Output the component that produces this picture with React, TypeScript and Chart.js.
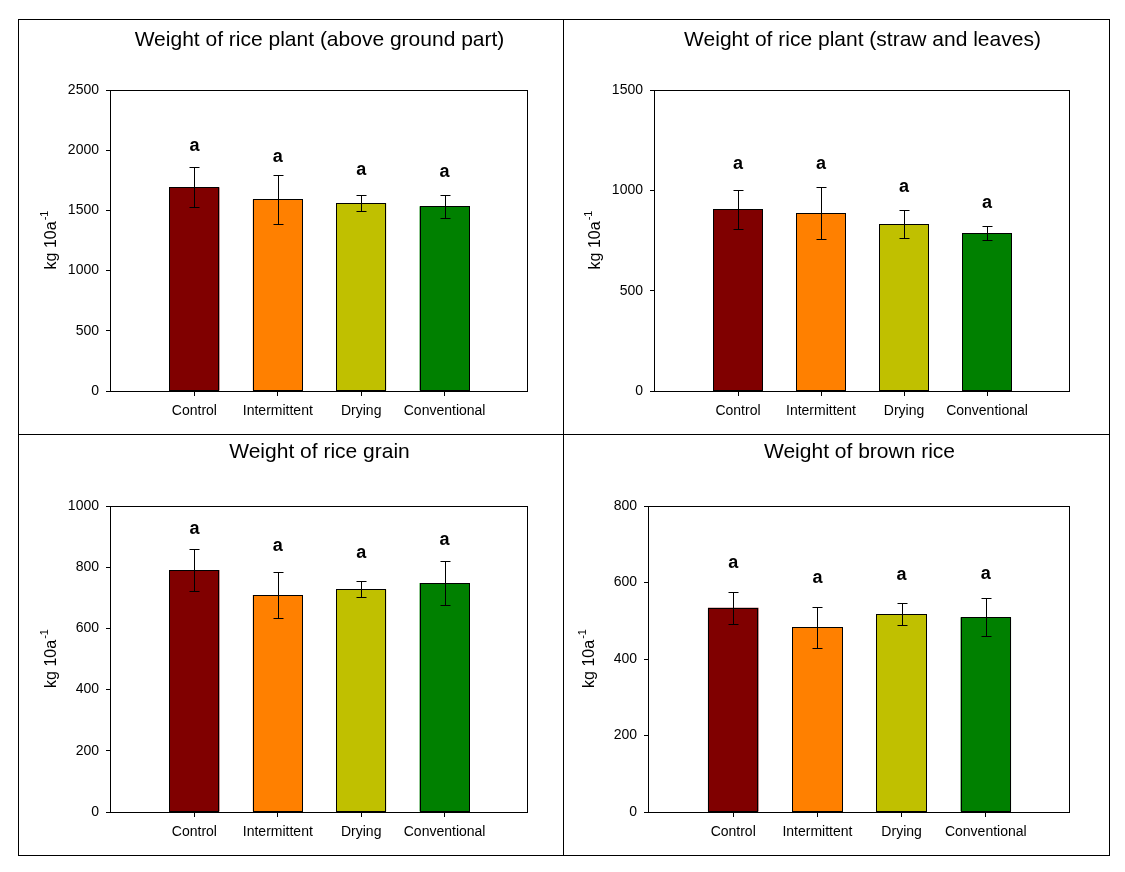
import React, { useEffect, useRef } from 'react';
import { Chart, registerables } from 'chart.js';

Chart.register(...registerables);

// ---------- data ----------
const CATEGORIES = ['Control', 'Intermittent', 'Drying', 'Conventional'];
const BAR_COLORS = ['#800000', '#FF8000', '#C0C000', '#008000'];
const SIG_LETTERS = ['a', 'a', 'a', 'a'];
const Y_LABEL = 'kg 10a';
const Y_LABEL_SUP = '-1';

const P1_TITLE = 'Weight of rice plant (above ground part)';
const P1_VALUES = [1692, 1591, 1559, 1534];
const P1_ERRORS = [167, 200, 67, 96];
const P1_LETTER_Y = [2037, 1946, 1836, 1821];
const P1_Y_MAX = 2500;
const P1_Y_STEP = 500;

const P2_TITLE = 'Weight of rice plant (straw and leaves)';
const P2_VALUES = [906, 886, 831, 786];
const P2_ERRORS = [98, 130, 70, 35];
const P2_LETTER_Y = [1130, 1130, 1019, 939];
const P2_Y_MAX = 1500;
const P2_Y_STEP = 500;

const P3_TITLE = 'Weight of rice grain';
const P3_VALUES = [791, 709, 728, 748];
const P3_ERRORS = [68, 74, 27, 72];
const P3_LETTER_Y = [925, 868, 846, 888];
const P3_Y_MAX = 1000;
const P3_Y_STEP = 200;

const P4_TITLE = 'Weight of brown rice';
const P4_VALUES = [534, 483, 517, 509];
const P4_ERRORS = [42, 54, 29, 50];
const P4_LETTER_Y = [652, 611, 620, 622];
const P4_Y_MAX = 800;
const P4_Y_STEP = 200;

// ---------- layout / style ----------
const FONT = '"Liberation Sans", Arial, Helvetica, sans-serif';

type Box = { x: number; y: number; w: number; h: number };
type Plot = { l: number; r: number; t: number; b: number };
type Spec = {
  title: string;
  values: number[];
  errors: number[];
  letterY: number[];
  yMax: number;
  yStep: number;
  cell: Box;
  plot: Plot;
  titleBase: number;
};

const SPECS: Spec[] = [
  {
    title: P1_TITLE, values: P1_VALUES, errors: P1_ERRORS, letterY: P1_LETTER_Y,
    yMax: P1_Y_MAX, yStep: P1_Y_STEP,
    cell: { x: 19, y: 20, w: 544, h: 414 },
    plot: { l: 111, r: 528, t: 90, b: 391 },
    titleBase: 46,
  },
  {
    title: P2_TITLE, values: P2_VALUES, errors: P2_ERRORS, letterY: P2_LETTER_Y,
    yMax: P2_Y_MAX, yStep: P2_Y_STEP,
    cell: { x: 564, y: 20, w: 545, h: 414 },
    plot: { l: 655, r: 1070, t: 90, b: 391 },
    titleBase: 46,
  },
  {
    title: P3_TITLE, values: P3_VALUES, errors: P3_ERRORS, letterY: P3_LETTER_Y,
    yMax: P3_Y_MAX, yStep: P3_Y_STEP,
    cell: { x: 19, y: 435, w: 544, h: 420 },
    plot: { l: 111, r: 528, t: 506, b: 812 },
    titleBase: 458,
  },
  {
    title: P4_TITLE, values: P4_VALUES, errors: P4_ERRORS, letterY: P4_LETTER_Y,
    yMax: P4_Y_MAX, yStep: P4_Y_STEP,
    cell: { x: 564, y: 435, w: 545, h: 420 },
    plot: { l: 649, r: 1070, t: 506, b: 812 },
    titleBase: 458,
  },
];

function PanelChart({ spec }: { spec: Spec }) {
  const ref = useRef<HTMLCanvasElement>(null);

  useEffect(() => {
    const { cell, plot } = spec;
    const Wy = 70;
    const Hx = 40;
    const padLeft = plot.l - cell.x - Wy;
    const padTop = plot.t - cell.y;
    const padRight = cell.x + cell.w - plot.r;
    const padBottom = cell.y + cell.h - plot.b - Hx;

    const labels = ['', ...CATEGORIES, ''];
    const data = [null, ...spec.values, null];
    const colors = ['rgba(0,0,0,0)', ...BAR_COLORS, 'rgba(0,0,0,0)'];
    const lastIdx = labels.length - 1;

    const annot = {
      id: 'annot',
      afterDatasetsDraw(chart: any) {
        const ctx = chart.ctx as CanvasRenderingContext2D;
        const area = chart.chartArea;
        const ys = chart.scales.y;
        const meta = chart.getDatasetMeta(0);
        ctx.save();
        ctx.strokeStyle = '#000';
        ctx.lineWidth = 1;
        // bar outlines (crisp)
        spec.values.forEach((_v, i) => {
          const el: any = meta.data[i + 1];
          if (!el) return;
          const l = Math.round(el.x - el.width / 2) + 0.5;
          const r = Math.round(el.x + el.width / 2) - 0.5;
          const t = Math.round(el.y) + 0.5;
          const b = Math.round(el.base) - 0.5;
          ctx.strokeRect(l, t, r - l, b - t);
        });
        // frame
        ctx.strokeRect(
          Math.round(area.left) - 0.5,
          Math.round(area.top) + 0.5,
          Math.round(area.right - area.left),
          Math.round(area.bottom - area.top)
        );
        // error bars + letters
        spec.values.forEach((v, i) => {
          const el: any = meta.data[i + 1];
          if (!el) return;
          const x = Math.round(el.x) + 0.5;
          const yTop = Math.round(ys.getPixelForValue(v + spec.errors[i])) + 0.5;
          const yBot = Math.round(ys.getPixelForValue(v - spec.errors[i])) + 0.5;
          const cap = 5;
          ctx.strokeStyle = '#000';
          ctx.lineWidth = 1;
          ctx.beginPath();
          ctx.moveTo(x, yTop);
          ctx.lineTo(x, yBot);
          ctx.moveTo(x - cap, yTop);
          ctx.lineTo(x + cap, yTop);
          ctx.moveTo(x - cap, yBot);
          ctx.lineTo(x + cap, yBot);
          ctx.stroke();

          ctx.fillStyle = '#000';
          ctx.font = `bold 18px ${FONT}`;
          ctx.textAlign = 'center';
          ctx.textBaseline = 'alphabetic';
          const ly = ys.getPixelForValue(spec.letterY[i]);
          ctx.fillText(SIG_LETTERS[i], el.x, ly + 5);
        });
        // title
        ctx.fillStyle = '#000';
        ctx.font = `21px ${FONT}`;
        ctx.textAlign = 'center';
        ctx.textBaseline = 'alphabetic';
        ctx.fillText(spec.title, (area.left + area.right) / 2, spec.titleBase - cell.y);
        // y-axis label
        ctx.save();
        const cx = area.left - 55;
        const cy = (area.top + area.bottom) / 2;
        ctx.translate(cx, cy);
        ctx.rotate(-Math.PI / 2);
        ctx.font = `16px ${FONT}`;
        const w1 = ctx.measureText(Y_LABEL).width;
        ctx.font = `11px ${FONT}`;
        const w2 = ctx.measureText(Y_LABEL_SUP).width;
        const start = -(w1 + w2) / 2;
        ctx.textAlign = 'left';
        ctx.font = `16px ${FONT}`;
        ctx.fillText(Y_LABEL, start, 0);
        ctx.font = `11px ${FONT}`;
        ctx.fillText(Y_LABEL_SUP, start + w1 + 1, -8);
        ctx.restore();
        ctx.restore();
      },
    };

    const chart = new Chart(ref.current as HTMLCanvasElement, {
      type: 'bar',
      data: {
        labels,
        datasets: [
          {
            data: data as any,
            backgroundColor: colors,
            borderWidth: 0,
            barPercentage: 0.6,
            categoryPercentage: 1,
          },
        ],
      },
      options: {
        responsive: false,
        animation: false,
        devicePixelRatio: 1,
        layout: { padding: { left: padLeft, top: padTop, right: padRight, bottom: padBottom } },
        plugins: {
          legend: { display: false },
          title: { display: false },
          tooltip: { enabled: false },
        },
        scales: {
          x: {
            type: 'category',
            offset: false,
            afterFit: (s: any) => {
              s.height = Hx;
            },
            grid: {
              display: true,
              offset: false,
              drawOnChartArea: false,
              drawTicks: true,
              tickLength: 5,
              tickWidth: 1,
              tickColor: (c: any) => (c.index === 0 || c.index === lastIdx ? 'rgba(0,0,0,0)' : '#000'),
            },
            border: { display: false },
            ticks: {
              autoSkip: false,
              maxRotation: 0,
              minRotation: 0,
              padding: 7,
              color: '#000',
              font: { family: FONT, size: 14 },
            },
          },
          y: {
            type: 'linear',
            min: 0,
            max: spec.yMax,
            afterFit: (s: any) => {
              s.width = Wy;
            },
            grid: {
              display: true,
              drawOnChartArea: false,
              drawTicks: true,
              tickLength: 5,
              tickWidth: 1,
              tickColor: '#000',
            },
            border: { display: false },
            ticks: {
              stepSize: spec.yStep,
              padding: 7,
              color: '#000',
              font: { family: FONT, size: 14 },
              callback: (v: any) => String(v),
            },
          },
        },
      } as any,
      plugins: [annot],
    });
    return () => chart.destroy();
  }, [spec]);

  return (
    <canvas
      ref={ref}
      width={spec.cell.w}
      height={spec.cell.h}
      style={{
        position: 'absolute',
        left: spec.cell.x,
        top: spec.cell.y,
        width: spec.cell.w,
        height: spec.cell.h,
      }}
    />
  );
}

export default function App() {
  return (
    <div
      style={{
        position: 'absolute',
        left: 0,
        top: 0,
        width: 1125,
        height: 872,
        background: '#fff',
        overflow: 'hidden',
      }}
    >
      <div
        style={{
          position: 'absolute',
          left: 18,
          top: 19,
          width: 1092,
          height: 837,
          border: '1px solid #000',
          boxSizing: 'border-box',
        }}
      />
      <div style={{ position: 'absolute', left: 563, top: 19, width: 1, height: 837, background: '#000' }} />
      <div style={{ position: 'absolute', left: 18, top: 434, width: 1092, height: 1, background: '#000' }} />
      {SPECS.map((s, i) => (
        <PanelChart key={i} spec={s} />
      ))}
    </div>
  );
}
